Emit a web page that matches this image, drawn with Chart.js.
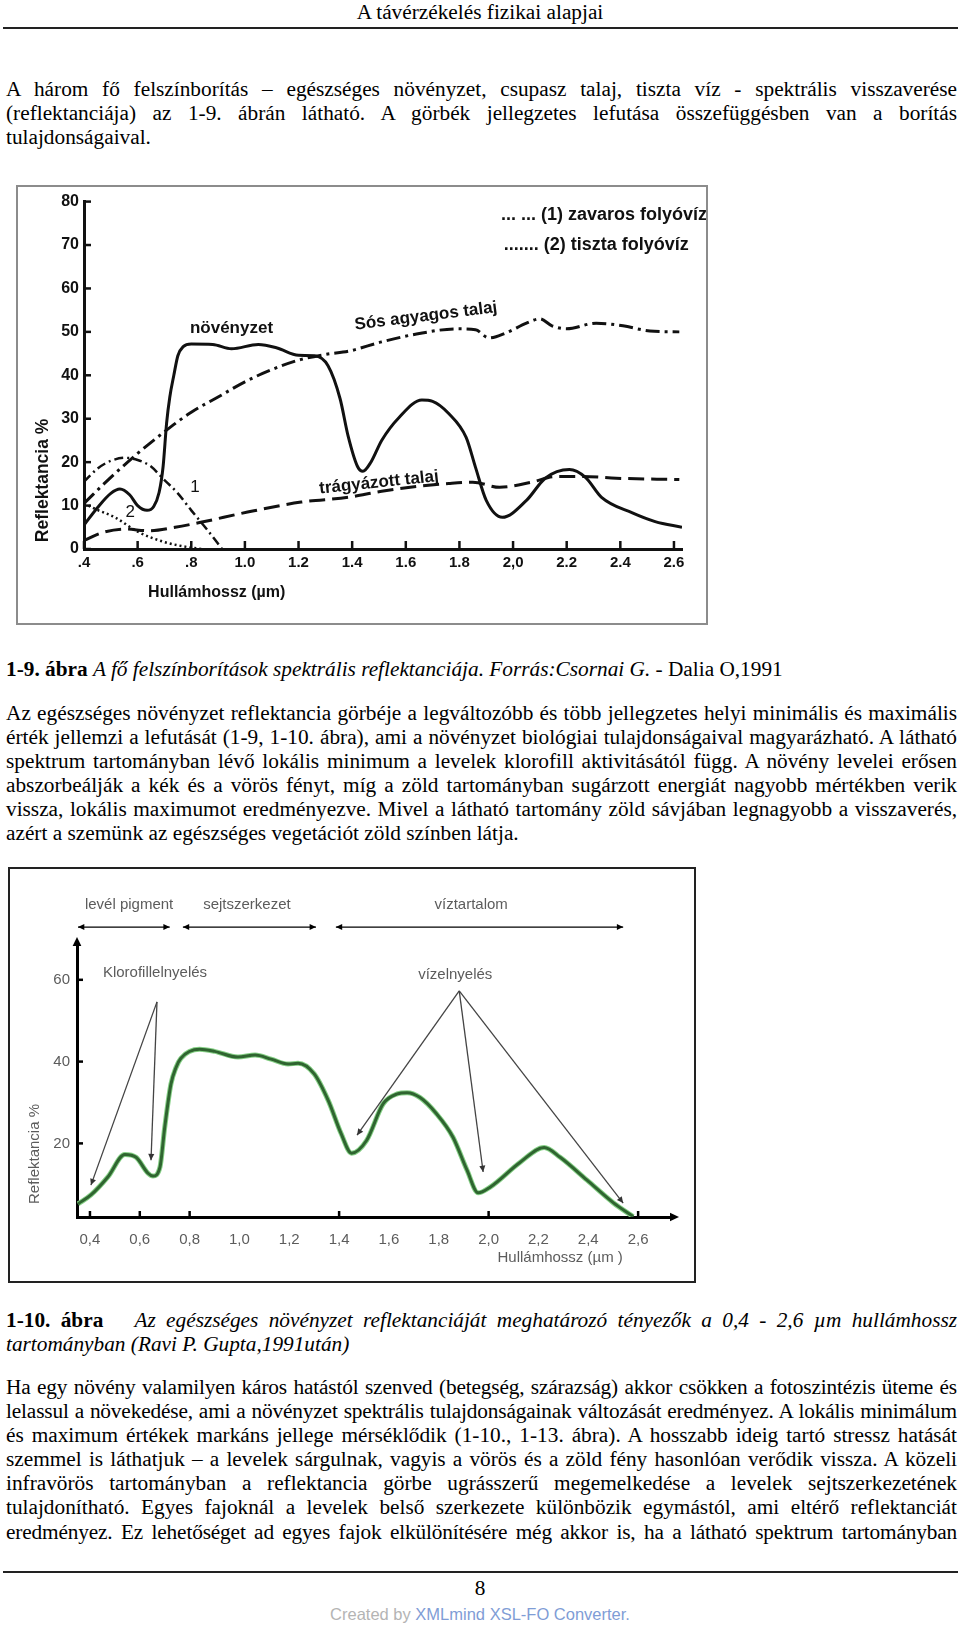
<!DOCTYPE html>
<html lang="hu">
<head>
<meta charset="utf-8">
<title>A távérzékelés fizikai alapjai</title>
<script src="https://cdn.jsdelivr.net/npm/chart.js@4.4.1/dist/chart.umd.min.js"></script>
<style>
body { margin: 0; width: 960px; height: 1625px; position: relative; overflow: hidden; background: #fff;
  font-family: "Liberation Serif", "Times New Roman", serif; font-size: 21.3px; color: #000; }
.head { position: absolute; top: 0; left: 0; width: 960px; text-align: center; line-height: 24px; }
.rule { position: absolute; left: 3px; width: 955px; height: 2px; background: #222; }
.blk { position: absolute; left: 6px; width: 951px; line-height: 24.1px; }
.blk div { height: 24.1px; text-align: justify; text-align-last: justify; }
.blk div.last { text-align-last: left; }
.blk div.tight { letter-spacing: -0.15px; }
.fig { position: absolute; background: #fff; }
.fig canvas { display: block; }
.page { position: absolute; top: 1576px; left: 0; width: 960px; text-align: center; line-height: 24px; }
.conv { position: absolute; top: 1604px; left: 0; width: 960px; text-align: center; line-height: 20px;
  font-family: "Liberation Sans", Arial, sans-serif; font-size: 16.5px; color: #b4b4b4; }
.conv span { color: #7f9dd6; }
</style>
</head>
<body>

<div class="head">A távérzékelés fizikai alapjai</div>
<div class="rule" style="top:27px"></div>

<div class="blk" style="top:77px">
  <div>A három fő felszínborítás – egészséges növényzet, csupasz talaj, tiszta víz - spektrális visszaverése</div>
  <div>(reflektanciája) az 1-9. ábrán látható. A görbék jellegzetes lefutása összefüggésben van a borítás</div>
  <div class="last">tulajdonságaival.</div>
</div>

<div class="fig" style="left:16px; top:185px; border:2px solid #8c8c8c;">
  <canvas id="fig1" width="688" height="436"></canvas>
</div>

<div class="blk" style="top:657px">
  <div class="last"><b>1-9. ábra</b> <i>A fő felszínborítások spektrális reflektanciája. Forrás:Csornai G.</i> - Dalia O,1991</div>
</div>

<div class="blk" style="top:701px">
  <div>Az egészséges növényzet reflektancia görbéje a legváltozóbb és több jellegzetes helyi minimális és maximális</div>
  <div>érték jellemzi a lefutását (1-9, 1-10. ábra), ami a növényzet biológiai tulajdonságaival magyarázható. A látható</div>
  <div>spektrum tartományban lévő lokális minimum a levelek klorofill aktivitásától függ. A növény levelei erősen</div>
  <div>abszorbeálják a kék és a vörös fényt, míg a zöld tartományban sugárzott energiát nagyobb mértékben verik</div>
  <div>vissza, lokális maximumot eredményezve. Mivel a látható tartomány zöld sávjában legnagyobb a visszaverés,</div>
  <div class="last">azért a szemünk az egészséges vegetációt zöld színben látja.</div>
</div>

<div class="fig" style="left:8px; top:867px; border:2px solid #222;">
  <canvas id="fig2" width="684" height="412"></canvas>
</div>

<div class="blk" style="top:1308px">
  <div><b>1-10. ábra</b> &nbsp; <i>Az egészséges növényzet reflektanciáját meghatározó tényezők a 0,4 - 2,6 µm hullámhossz</i></div>
  <div class="last"><i>tartományban (Ravi P. Gupta,1991után)</i></div>
</div>

<div class="blk" style="top:1375px">
  <div class="tight">Ha egy növény valamilyen káros hatástól szenved (betegség, szárazság) akkor csökken a fotoszintézis üteme és</div>
  <div class="tight">lelassul a növekedése, ami a növényzet spektrális tulajdonságainak változását eredményez. A lokális minimálum</div>
  <div>és maximum értékek markáns jellege mérséklődik (1-10., 1-13. ábra). A hosszabb ideig tartó stressz hatását</div>
  <div>szemmel is láthatjuk – a levelek sárgulnak, vagyis a vörös és a zöld fény hasonlóan verődik vissza. A közeli</div>
  <div>infravörös tartományban a reflektancia görbe ugrásszerű megemelkedése a levelek sejtszerkezetének</div>
  <div>tulajdonítható. Egyes fajoknál a levelek belső szerkezete különbözik egymástól, ami eltérő reflektanciát</div>
  <div class="tight">eredményez. Ez lehetőséget ad egyes fajok elkülönítésére még akkor is, ha a látható spektrum tartományban</div>
</div>

<div class="rule" style="top:1571px"></div>
<div class="page">8</div>
<div class="conv">Created by <span>XMLmind XSL-FO Converter.</span></div>

<script>
// ---- 1-9. ábra: fő felszínborítások ----
const wave1Ticks = [0.4, 0.6, 0.8, 1.0, 1.2, 1.4, 1.6, 1.8, 2.0, 2.2, 2.4, 2.6];
const wave1Labels = ['.4', '.6', '.8', '1.0', '1.2', '1.4', '1.6', '1.8', '2,0', '2.2', '2.4', '2.6'];
const refl1Ticks = [0, 10, 20, 30, 40, 50, 60, 70, 80];

const plantX = [0.40, 0.45, 0.50, 0.534, 0.57, 0.60, 0.635, 0.66, 0.68, 0.695, 0.708, 0.72, 0.735, 0.75, 0.77, 0.80,
  0.88, 0.95, 1.05, 1.12, 1.20, 1.26, 1.31, 1.355, 1.385, 1.42, 1.44, 1.47, 1.51, 1.575, 1.66, 1.70, 1.76, 1.825,
  1.86, 1.90, 1.96, 2.05, 2.12, 2.21, 2.27, 2.33, 2.445, 2.53, 2.63];
const plantY = [5.5, 9.5, 12.8, 13.8, 12.5, 10.0, 8.9, 9.8, 13, 19, 29, 35, 40, 44.5, 46.6, 47.2,
  47.1, 46.1, 47.1, 46.3, 44.6, 44.5, 42.2, 34.6, 26, 19, 17.9, 20, 25, 30.3, 34.3, 34, 31.2, 25.7,
  18.8, 11.2, 7.3, 11.2, 16.3, 18.3, 16.5, 11.9, 8.3, 6.3, 5.0];

const claySoilX = [0.40, 0.50, 0.60, 0.70, 0.80, 0.90, 1.00, 1.10, 1.20, 1.30, 1.39, 1.51, 1.64, 1.79, 1.86, 1.91,
  1.975, 2.05, 2.10, 2.145, 2.20, 2.31, 2.41, 2.51, 2.62];
const claySoilY = [10.5, 16.5, 22, 27, 31.5, 35, 38.5, 41.3, 43.5, 44.8, 45.6, 47.7, 49.5, 50.7, 50.5, 48.6,
  49.8, 52, 53, 51.4, 50.7, 52, 51.4, 50.2, 50];

const manuredSoilX = [0.40, 0.47, 0.553, 0.64, 0.74, 0.84, 1.01, 1.21, 1.385, 1.51, 1.64, 1.76, 1.85, 1.95, 2.07,
  2.16, 2.26, 2.385, 2.62];
const manuredSoilY = [2, 3.8, 4.6, 4.2, 5.0, 6.2, 8.5, 10.8, 11.9, 13.3, 14.4, 15.1, 15.4, 14.2, 15.4,
  16.7, 16.7, 16.3, 16];

const turbidX = [0.40, 0.45, 0.50, 0.553, 0.60, 0.65, 0.69, 0.75, 0.80, 0.86, 0.915];
const turbidY = [15.5, 18.5, 20.3, 21, 20.5, 19, 16.5, 12.8, 8.9, 4.4, 0];

const clearX = [0.40, 0.45, 0.515, 0.60, 0.70, 0.79, 0.84];
const clearY = [10.5, 9, 7.3, 4, 1.6, 0.4, 0];

// ---- 1-10. ábra: egészséges növényzet ----
const wave2Ticks = [0.4, 0.6, 0.8, 1.0, 1.2, 1.4, 1.6, 1.8, 2.0, 2.2, 2.4, 2.6];
const wave2Labels = ['0,4', '0,6', '0,8', '1,0', '1,2', '1,4', '1,6', '1,8', '2,0', '2,2', '2,4', '2,6'];
const wave2Marked = [0.4, 0.6, 0.8, 1.4, 2.0, 2.6];
const refl2Ticks = [20, 40, 60];

const leafX = [0.352, 0.404, 0.472, 0.54, 0.585, 0.633, 0.653, 0.681, 0.70, 0.725, 0.745, 0.765, 0.84, 0.90, 0.994,
  1.063, 1.127, 1.195, 1.235, 1.30, 1.357, 1.408, 1.45, 1.51, 1.577, 1.633, 1.673, 1.725, 1.79, 1.857, 1.913,
  1.958, 2.006, 2.127, 2.223, 2.287, 2.395, 2.50, 2.58];
const leafY = [5.2, 7.4, 11.8, 17.3, 16.6, 12.7, 12.0, 14.2, 23.9, 34.5, 38.5, 40.8, 43, 42.5, 41.1,
  41.6, 40.6, 39.4, 39.6, 37, 30.4, 22.4, 17.6, 20.7, 29.7, 32.1, 32.4, 31.2, 27.3, 21.5, 13.5,
  7.9, 9.3, 15.4, 19, 16.6, 11, 5.5, 2.1];

// annotations (data units)
const bandRanges = [[0.352, 0.72], [0.773, 1.307], [1.387, 2.54]];
const bandLevel = 72.9;
const chloroApex = [0.669, 54.6];
const chloroTargets = [[0.404, 9.8], [0.645, 15.9]];
const waterApex = [1.882, 57.3];
const waterTargets = [[1.472, 22.0], [1.978, 13.0], [2.54, 5.4]];

const bold1 = 'bold 17px "Liberation Sans"';
const bold1Big = 'bold 18px "Liberation Sans"';
const notes1 = [
  { text: 'növényzet', x: 0.95, y: 50.9 },
  { text: 'Sós agyagos talaj', x: 1.675, y: 53.6, rot: -7 },
  { text: 'trágyázott talaj', x: 1.50, y: 15.3, rot: -6 },
  { text: '1', x: 0.814, y: 14.2, font: '17px "Liberation Sans"' },
  { text: '2', x: 0.572, y: 8.5, font: '17px "Liberation Sans"' },
  { text: '... ... (1) zavaros folyóvíz', x: 1.955, y: 77, align: 'left', font: bold1Big },
  { text: '....... (2) tiszta folyóvíz', x: 1.965, y: 69.9, align: 'left', font: bold1Big },
  { text: 'Reflektancia %', x: 0.247, y: 15.8, rot: -90, font: 'bold 17.5px "Liberation Sans"' },
  { text: 'Hullámhossz (µm)', x: 0.895, y: -10.1, font: 'bold 16px "Liberation Sans"' }
];

const grey = '#5c5c5c';
const reg2 = '15px "Liberation Sans"';
const notes2 = [
  { text: 'levél pigment', x: 0.557, y: 78.3 },
  { text: 'sejtszerkezet', x: 1.03, y: 78.3 },
  { text: 'víztartalom', x: 1.93, y: 78.3 },
  { text: 'Klorofillelnyelés', x: 0.661, y: 61.7 },
  { text: 'vízelnyelés', x: 1.866, y: 61.2 },
  { text: 'Reflektancia %', x: 0.179, y: 17.4, rot: -90 },
  { text: 'Hullámhossz (µm )', x: 2.287, y: -8 }
];

Chart.defaults.font.family = '"Liberation Sans", Arial, sans-serif';

function pairs(xs, ys) {
  return xs.map((x, i) => ({ x: x, y: ys[i] }));
}

function drawNotes(chart, notes, defFont, defColor) {
  const ctx = chart.ctx, sx = chart.scales.x, sy = chart.scales.y;
  notes.forEach(n => {
    ctx.save();
    ctx.translate(sx.getPixelForValue(n.x), sy.getPixelForValue(n.y));
    ctx.rotate((n.rot || 0) * Math.PI / 180);
    ctx.font = n.font || defFont;
    ctx.fillStyle = n.color || defColor;
    ctx.textAlign = n.align || 'center';
    ctx.textBaseline = 'middle';
    ctx.fillText(n.text, 0, 0);
    ctx.restore();
  });
}

function arrowHead(ctx, x1, y1, x2, y2, size) {
  const a = Math.atan2(y2 - y1, x2 - x1);
  ctx.beginPath();
  ctx.moveTo(x2, y2);
  ctx.lineTo(x2 - size * Math.cos(a - 0.45), y2 - size * Math.sin(a - 0.45));
  ctx.lineTo(x2 - size * Math.cos(a + 0.45), y2 - size * Math.sin(a + 0.45));
  ctx.closePath();
  ctx.fill();
}

function seg(ctx, x1, y1, x2, y2) {
  ctx.beginPath();
  ctx.moveTo(x1, y1);
  ctx.lineTo(x2, y2);
  ctx.stroke();
}

const fig1Extras = {
  id: 'fig1Extras',
  afterDraw(chart) {
    const ctx = chart.ctx, sx = chart.scales.x, sy = chart.scales.y, a = chart.chartArea;
    ctx.save();
    ctx.strokeStyle = '#111';
    ctx.lineWidth = 2.5;
    wave1Ticks.forEach(v => { const p = sx.getPixelForValue(v); seg(ctx, p, a.bottom, p, a.bottom - 8); });
    refl1Ticks.forEach(v => { const p = sy.getPixelForValue(v); seg(ctx, a.left, p, a.left + 7, p); });
    ctx.restore();
    drawNotes(chart, notes1, bold1, '#111');
  }
};

const fig2Extras = {
  id: 'fig2Extras',
  afterDraw(chart) {
    const ctx = chart.ctx, sx = chart.scales.x, sy = chart.scales.y, a = chart.chartArea;
    const X = v => sx.getPixelForValue(v), Y = v => sy.getPixelForValue(v);
    ctx.save();
    ctx.strokeStyle = '#000';
    ctx.fillStyle = '#000';
    ctx.lineWidth = 2.5;
    wave2Marked.forEach(v => seg(ctx, X(v), a.bottom, X(v), a.bottom - 6));
    refl2Ticks.forEach(v => seg(ctx, a.left, Y(v), a.left + 6, Y(v)));
    // axis arrows
    arrowHead(ctx, a.left, a.top + 10, a.left, a.top - 6, 10);
    arrowHead(ctx, a.right - 10, a.bottom, a.right + 6, a.bottom, 10);
    // band arrows
    ctx.lineWidth = 1.2;
    bandRanges.forEach(r => {
      const y = Y(bandLevel);
      seg(ctx, X(r[0]), y, X(r[1]), y);
      arrowHead(ctx, X(r[1]), y, X(r[0]), y, 7);
      arrowHead(ctx, X(r[0]), y, X(r[1]), y, 7);
    });
    // pointer lines
    ctx.strokeStyle = '#444';
    ctx.fillStyle = '#333';
    ctx.lineWidth = 1.3;
    [[chloroApex, chloroTargets], [waterApex, waterTargets]].forEach(g => {
      const ax = X(g[0][0]), ay = Y(g[0][1]);
      g[1].forEach(t => {
        seg(ctx, ax, ay, X(t[0]), Y(t[1]));
        arrowHead(ctx, ax, ay, X(t[0]), Y(t[1]), 7);
      });
    });
    ctx.restore();
    drawNotes(chart, notes2, reg2, grey);
  }
};

new Chart(document.getElementById('fig1'), {
  type: 'line',
  data: {
    datasets: [
      { label: 'növényzet', data: pairs(plantX, plantY), borderColor: '#111', borderWidth: 3 },
      { label: 'Sós agyagos talaj', data: pairs(claySoilX, claySoilY), borderColor: '#111', borderWidth: 3, borderDash: [14, 5, 3, 5] },
      { label: 'trágyázott talaj', data: pairs(manuredSoilX, manuredSoilY), borderColor: '#111', borderWidth: 3, borderDash: [16, 7] },
      { label: '(1) zavaros folyóvíz', data: pairs(turbidX, turbidY), borderColor: '#111', borderWidth: 2.5, borderDash: [9, 4, 2, 4] },
      { label: '(2) tiszta folyóvíz', data: pairs(clearX, clearY), borderColor: '#111', borderWidth: 2.5, borderDash: [2, 3] }
    ]
  },
  options: {
    responsive: false,
    animation: false,
    events: [],
    layout: { padding: { left: 0, top: 13, right: 24, bottom: 0 } },
    elements: { point: { radius: 0 }, line: { cubicInterpolationMode: 'monotone', fill: false } },
    plugins: { legend: { display: false }, tooltip: { enabled: false } },
    scales: {
      x: {
        type: 'linear', min: 0.4, max: 2.63,
        grid: { display: false, drawTicks: false },
        border: { color: '#111', width: 3 },
        afterBuildTicks: s => { s.ticks = wave1Ticks.map(v => ({ value: v })); },
        afterFit: s => { s.height = 74; },
        ticks: { callback: (v, i) => wave1Labels[i], color: '#111', padding: 5, maxRotation: 0, autoSkip: false,
          font: { size: 15, weight: 'bold' } }
      },
      y: {
        type: 'linear', min: 0, max: 80,
        grid: { display: false, drawTicks: false },
        border: { color: '#111', width: 3 },
        afterBuildTicks: s => { s.ticks = refl1Ticks.map(v => ({ value: v })); },
        afterFit: s => { s.width = 66; },
        ticks: { color: '#111', padding: 5, font: { size: 16, weight: 'bold' } }
      }
    }
  },
  plugins: [fig1Extras]
});

new Chart(document.getElementById('fig2'), {
  type: 'line',
  data: {
    datasets: [
      { label: 'reflektancia', data: pairs(leafX, leafY), borderColor: '#2f6530', borderWidth: 3, order: 0 },
      { label: 'reflektancia (szegély)', data: pairs(leafX, leafY), borderColor: '#86d086', borderWidth: 5, order: 1 }
    ]
  },
  options: {
    responsive: false,
    animation: false,
    events: [],
    layout: { padding: { left: 0, top: 74, right: 21, bottom: 0 } },
    elements: { point: { radius: 0 }, line: { cubicInterpolationMode: 'monotone', fill: false } },
    plugins: { legend: { display: false }, tooltip: { enabled: false } },
    scales: {
      x: {
        type: 'linear', min: 0.348, max: 2.74,
        grid: { display: false, drawTicks: false },
        border: { color: '#000', width: 3 },
        afterBuildTicks: s => { s.ticks = wave2Ticks.map(v => ({ value: v })); },
        afterFit: s => { s.height = 64; },
        ticks: { callback: (v, i) => wave2Labels[i], color: grey, padding: 14, maxRotation: 0, autoSkip: false,
          font: { size: 15 } }
      },
      y: {
        type: 'linear', min: 2, max: 69,
        grid: { display: false, drawTicks: false },
        border: { color: '#000', width: 3 },
        afterBuildTicks: s => { s.ticks = refl2Ticks.map(v => ({ value: v })); },
        afterFit: s => { s.width = 67; },
        ticks: { color: grey, padding: 7, font: { size: 15 } }
      }
    }
  },
  plugins: [fig2Extras]
});
</script>
</body>
</html>
